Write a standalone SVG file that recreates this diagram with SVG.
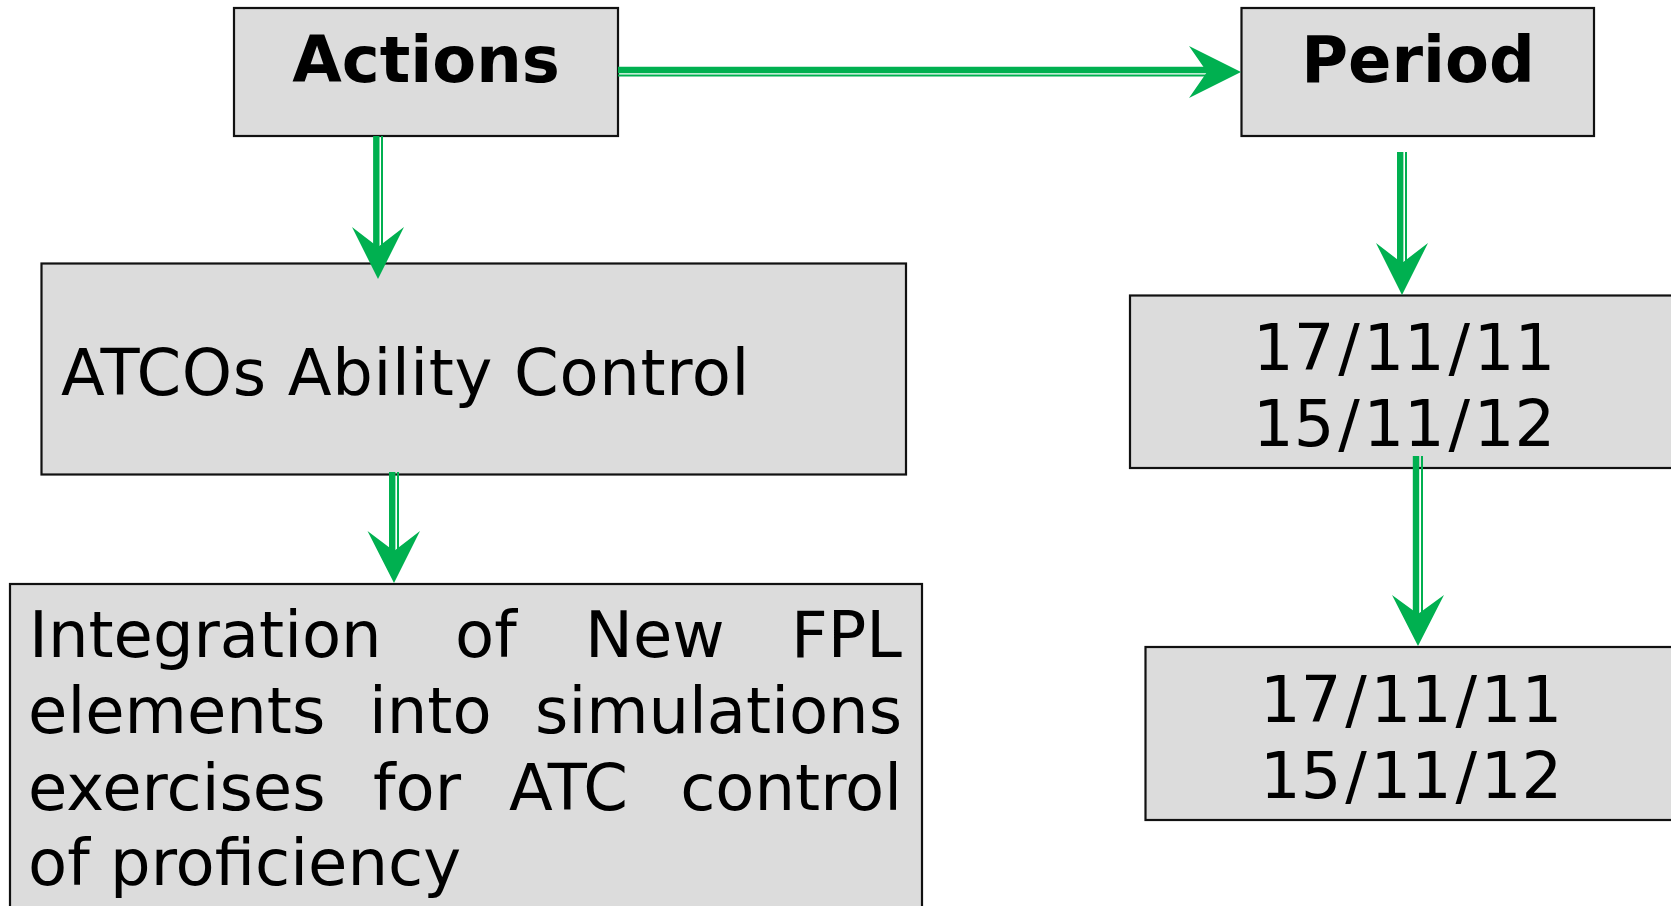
<svg xmlns="http://www.w3.org/2000/svg" width="1671" height="906" viewBox="0 0 1671 906">
  <style>
    .box { fill: #dcdcdc; stroke: #111111; stroke-width: 2.2; }
    .title { font-family: "DejaVu Sans", Verdana, sans-serif; font-weight: bold; font-size: 64px; fill: #000; text-anchor: middle; }
    .body { font-family: "DejaVu Sans", Verdana, sans-serif; font-size: 64px; fill: #000; }
    .thick { stroke: #00b050; stroke-width: 6.4; fill: none; }
    .thin { stroke: #00b050; stroke-width: 2; fill: none; }
    .head { fill: #00b050; }
  </style>

  <!-- nodes -->
  <g id="actions">
    <rect class="box" x="234" y="8" width="384" height="128"/>
    <text class="title" x="426" y="82">Actions</text>
  </g>

  <g id="period">
    <rect class="box" x="1241.5" y="8" width="352.5" height="128"/>
    <text class="title" x="1418" y="82">Period</text>
  </g>

  <g id="atcos-ability">
    <rect class="box" x="41.5" y="263.5" width="864.5" height="211"/>
    <text class="body" x="61" y="395" letter-spacing="0.65">ATCOs Ability Control</text>
  </g>

  <!-- dates: slashes get a little extra room on each side -->
  <g id="dates-1">
    <rect class="box" x="1130" y="295.5" width="600" height="172.5"/>
    <text class="body" x="1253" y="370">17<tspan dx="3.7">/</tspan><tspan dx="3.7">11</tspan><tspan dx="3.7">/</tspan><tspan dx="3.7">11</tspan></text>
    <text class="body" x="1253" y="446">15<tspan dx="3.7">/</tspan><tspan dx="3.7">11</tspan><tspan dx="3.7">/</tspan><tspan dx="3.7">12</tspan></text>
  </g>

  <g id="dates-2">
    <rect class="box" x="1145.5" y="647" width="600" height="173"/>
    <text class="body" x="1260" y="722">17<tspan dx="3.7">/</tspan><tspan dx="3.7">11</tspan><tspan dx="3.7">/</tspan><tspan dx="3.7">11</tspan></text>
    <text class="body" x="1260" y="798">15<tspan dx="3.7">/</tspan><tspan dx="3.7">11</tspan><tspan dx="3.7">/</tspan><tspan dx="3.7">12</tspan></text>
  </g>

  <g id="integration">
    <rect class="box" x="10" y="584" width="912" height="400"/>
    <text class="body" y="657">
      <tspan x="29">Integration</tspan><tspan x="455">of</tspan><tspan x="585">New</tspan><tspan x="902" text-anchor="end">FPL</tspan>
    </text>
    <text class="body" y="733">
      <tspan x="28">elements</tspan><tspan x="369">into</tspan><tspan x="902" text-anchor="end">simulations</tspan>
    </text>
    <text class="body" y="810">
      <tspan x="28">exercises</tspan><tspan x="373">for</tspan><tspan x="509">ATC</tspan><tspan x="902" text-anchor="end">control</tspan>
    </text>
    <text class="body" x="28" y="885">of proficiency</text>
  </g>

  <!-- connectors: thick + thin double shaft with a notched arrowhead -->
  <g id="connectors">
    <!-- Actions -> Period -->
    <line class="thick" x1="618" y1="70" x2="1212" y2="70"/>
    <line class="thin" x1="618" y1="75.6" x2="1206" y2="75.6"/>
    <polygon class="head" points="1241,72 1189,46 1207,72 1189,98"/>

    <!-- Actions -> ATCOs Ability Control -->
    <line class="thick" x1="376.3" y1="136" x2="376.3" y2="252"/>
    <line class="thin" x1="382" y1="136" x2="382" y2="246"/>
    <polygon class="head" points="378,279 352,227 378,247 404,227"/>

    <!-- ATCOs Ability Control -> Integration -->
    <line class="thick" x1="392.2" y1="472" x2="392.2" y2="555"/>
    <line class="thin" x1="398" y1="472" x2="398" y2="549"/>
    <polygon class="head" points="394,583 367.5,531 394,551 420,531"/>

    <!-- Period -> first dates -->
    <line class="thick" x1="1400.2" y1="152" x2="1400.2" y2="268"/>
    <line class="thin" x1="1406" y1="152" x2="1406" y2="262"/>
    <polygon class="head" points="1402,295 1376,243 1402,263 1428,243"/>

    <!-- first dates -> second dates -->
    <line class="thick" x1="1416" y1="456" x2="1416" y2="618"/>
    <line class="thin" x1="1422" y1="456" x2="1422" y2="612"/>
    <polygon class="head" points="1418,646 1392,595 1418,614 1444,595"/>
  </g>
</svg>
